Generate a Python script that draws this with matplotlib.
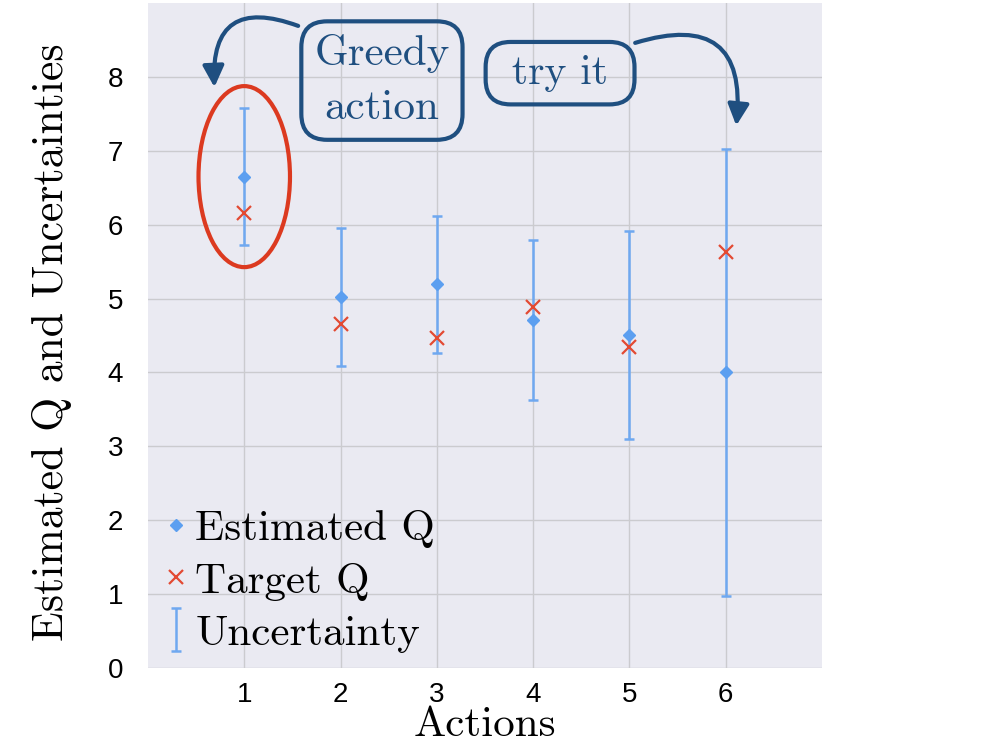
import matplotlib.pyplot as plt
from matplotlib.patches import Ellipse

actions = [1, 2, 3, 4, 5, 6]
estimated_q = [6.65, 5.02, 5.19, 4.71, 4.51, 4.00]
target_q = [6.16, 4.65, 4.46, 4.89, 4.35, 5.63]
uncertainty = [0.93, 0.93, 0.93, 1.08, 1.41, 3.03]

BLUE = '#1f4f80'
RED = '#dc3a20'
SERIF = 'cmr10'

fig = plt.figure(figsize=(9.95, 7.47), dpi=100)
ax = fig.add_axes([0.1487, 0.1058, 0.6774, 0.8902])
ax.set_facecolor('#EAEAF2')
for s in ax.spines.values():
    s.set_visible(False)
ax.grid(True, color='#cbcbcf', lw=1)
ax.set_axisbelow(True)
ax.tick_params(axis='y', length=0, labelsize=20, pad=18)
ax.tick_params(axis='x', length=0, labelsize=20, pad=10)

eb = ax.errorbar(actions, estimated_q, yerr=uncertainty, fmt='none', ecolor='#6fa8f0',
                 elinewidth=1.8, capsize=3.5, capthick=1.8, label='Uncertainty', zorder=2)
est, = ax.plot(actions, estimated_q, 'D', ms=6.5, color='#5c9ff0', ls='none',
               label='Estimated Q', zorder=3)
tgt, = ax.plot(actions, target_q, 'x', ms=10, mew=1.6, color='#e34a33', ls='none',
               label='Target Q', zorder=4)

ax.set_xlim(0, 7)
ax.set_ylim(0, 9)
ax.set_xticks(actions)
ax.set_yticks(range(0, 9))
for lab in ax.get_xticklabels() + ax.get_yticklabels():
    lab.set_family('Liberation Sans')

ax.set_xlabel('Actions', fontsize=31, family=SERIF)
ax.set_ylabel('Estimated Q and Uncertainties', fontsize=31.5, family=SERIF)
ax.xaxis.set_label_coords(0.5, -0.058)
ax.yaxis.set_label_coords(-0.113, 0.49)

leg = ax.legend([est, tgt, eb], ['Estimated Q', 'Target Q', 'Uncertainty'],
                loc='lower left', frameon=False, prop={'family': SERIF, 'size': 31},
                handlelength=0.6, handletextpad=0.15, labelspacing=0.33,
                borderaxespad=0.1, borderpad=0.25, numpoints=1)

# hand-drawn annotations
ell = Ellipse((actions[0], estimated_q[0]), width=0.95, height=2.45, fill=False,
              ec=RED, lw=3, zorder=5)
ax.add_patch(ell)

ax.text(2.43, 7.95, 'Greedy\naction', ha='center', va='center', fontsize=31,
        family=SERIF, color=BLUE, linespacing=1.55,
        bbox=dict(boxstyle='round,pad=0.3,rounding_size=0.6', fc='none', ec=BLUE, lw=3))
ax.text(4.28, 8.05, ' try it ', ha='center', va='center', fontsize=30,
        family=SERIF, color=BLUE,
        bbox=dict(boxstyle='round,pad=0.3,rounding_size=0.6', fc='none', ec=BLUE, lw=3))

for start, tip, rad in [((1.56, 8.69), (0.69, 7.86), 0.75),
                        ((5.06, 8.46), (6.11, 7.34), -0.75)]:
    ax.annotate('', xy=tip, xytext=start,
                arrowprops=dict(arrowstyle='-|>', connectionstyle=f'arc3,rad={rad}',
                                color=BLUE, lw=3, mutation_scale=32,
                                shrinkA=0, shrinkB=0))

fig.savefig('out.png', dpi=100)
